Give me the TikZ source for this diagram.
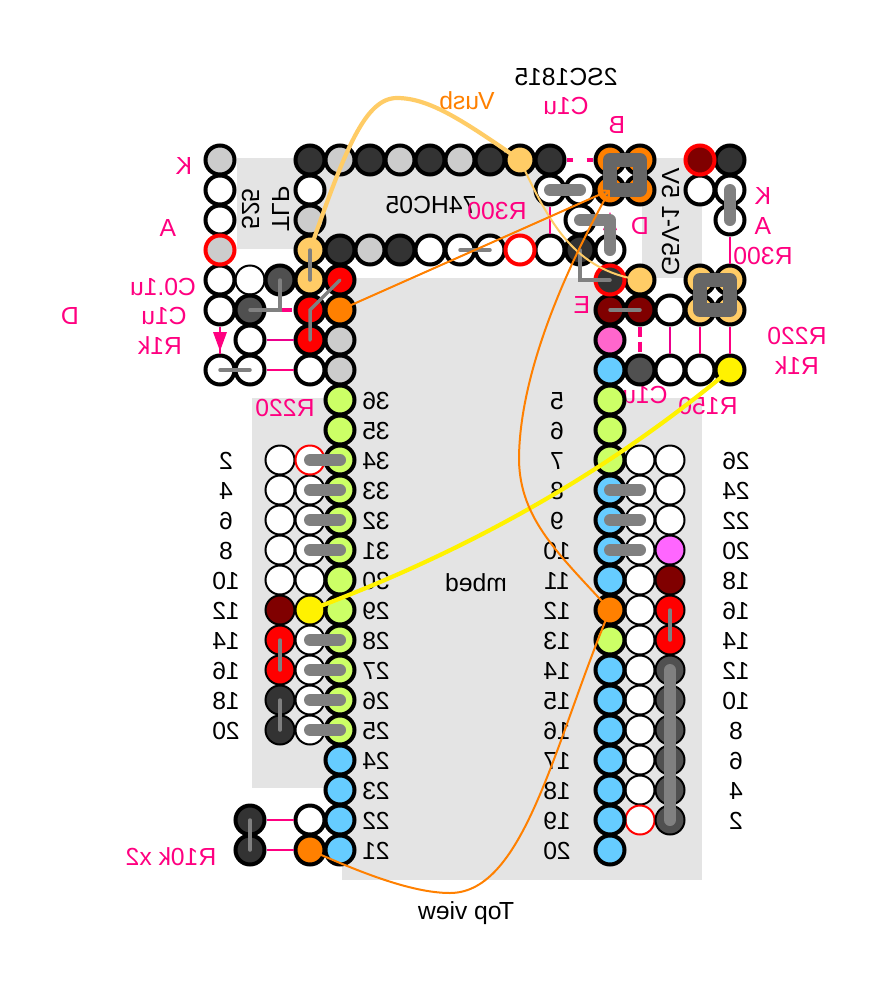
\documentclass[tikz,border=0pt]{standalone}
\usepackage{fontspec}
\setmainfont{Liberation Sans}
\usetikzlibrary{arrows.meta}
\definecolor{boardgray}{HTML}{E4E4E4}
\definecolor{pinlight}{HTML}{CCCCCC}
\definecolor{pindark}{HTML}{333333}
\definecolor{pinmid}{HTML}{505050}
\definecolor{pinsand}{HTML}{FFCC66}
\definecolor{pinorange}{HTML}{FF8000}
\definecolor{pinmaroon}{HTML}{800000}
\definecolor{pinlime}{HTML}{CCFF66}
\definecolor{pinblue}{HTML}{66CCFF}
\definecolor{pinrose}{HTML}{FF66CC}
\definecolor{pinviolet}{HTML}{FF66FF}
\definecolor{partpink}{HTML}{FF0080}
\definecolor{wiregray}{HTML}{808080}
\definecolor{loopgray}{HTML}{666666}
\tikzset{
  pin/.style={circle,draw=black,line width=4pt,minimum size=29pt,inner sep=0pt,fill=white},
  thinpin/.style={pin,line width=2pt},
  lbl/.style={xscale=-1,inner sep=0pt,text height=17.7pt,text depth=0pt,
    font=\fontsize{24.7pt}{28pt}\selectfont},
  pinklbl/.style={lbl,text=partpink},
  uplbl/.style={inner sep=0pt,text height=17.7pt,text depth=0pt,
    font=\fontsize{24.7pt}{28pt}\selectfont,xscale=-1,rotate=90},
  partline/.style={draw=partpink,line width=2.2pt},
  capline/.style={draw=partpink,line width=4pt},
  strap/.style={draw=wiregray,line width=12pt,line cap=round,line join=round},
  jumper/.style={draw=wiregray,line width=3.5pt,line cap=round,line join=miter},
  hookup/.style={draw=pinorange,line width=2pt},
}
\begin{document}
\begin{tikzpicture}[%
      x=1pt,y=-1pt,
      ]
      \useasboundingbox (0,0) rectangle (887,983);
      \fill [boardgray] (237,158) rectangle (550,249);
      \fill [boardgray] (642,158) rectangle (702,278);
      \fill [boardgray] (342,278) rectangle (610,880);
      \fill [boardgray] (610,398) rectangle (702,880);
      \fill [boardgray] (252,398) rectangle (342,788);

      \node [lbl] (chipa) at (566,76.5) {2SC1815};
      \node [lbl] (chipb) at (431,205) {74HC05};
      \node [lbl] (board) at (476,583) {mbed};
      \node [lbl] (view) at (466,911) {Top view};
      \node [uplbl] (opto) at (281,209) {TLP};
      \node [uplbl] (optonum) at (251,209) {525};
      \node [uplbl] (relay) at (671,222) {G5V-1 5V};
      \node [lbl,text=pinorange] (vusb) at (467,101) {Vusb};
      \node [pinklbl] (ctop) at (566,106) {C1u};
      \node [pinklbl] (base) at (617,125) {B};
      \node [pinklbl] (emit) at (582,305) {E};
      \node [pinklbl] (ka) at (184,166) {K};
      \node [pinklbl] (an) at (168,228) {A};
      \node [pinklbl] (kb) at (763,196) {K};
      \node [pinklbl] (ab) at (763,226) {A};
      \node [pinklbl] (da) at (70,316) {D};
      \node [pinklbl] (db) at (640,226) {D};
      \node [pinklbl] (cleft) at (163,287) {C0.1u};
      \node [pinklbl] (cleftb) at (164,316) {C1u};
      \node [pinklbl] (rleft) at (160,346) {R1k};
      \node [pinklbl] (rmid) at (497,211) {R300};
      \node [pinklbl] (rright) at (763,256) {R300};
      \node [pinklbl] (rled) at (797,336) {R220};
      \node [pinklbl] (rledb) at (797,366) {R1k};
      \node [pinklbl] (clow) at (645,395) {C1u};
      \node [pinklbl] (rlow) at (708,406) {R150};
      \node [pinklbl] (rhead) at (285,408) {R220};
      \node [pinklbl] (rpull) at (171,857) {R10k x2};

      \foreach \n [count=\i] in {36,35,...,21}
        \node [lbl] (num\n) at (376,371+30*\i) {\n};
      \foreach \n [count=\i] in {5,...,20}
        \node [lbl] (mb\n) at (557,371+30*\i) {\n};
      \foreach \n [count=\i] in {2,4,...,20}
        \node [lbl] (hl\n) at (226,431+30*\i) {\n};
      \foreach \n [count=\i] in {26,24,...,2}
        \node [lbl] (hr\n) at (736,431+30*\i) {\n};

      \foreach \x/\y in {280/460,280/490,280/520,280/550,280/580,310/490,310/520,310/550,310/580,
          310/640,310/670,310/700,310/730,640/460,640/490,640/520,640/550,640/580,640/610,640/640,
          640/670,640/700,640/730,640/760,640/790,670/460,670/490,670/520,250/280}
        \node [thinpin] (p\x-\y) at (\x,\y) {};
      \node [thinpin,draw=red] (p310-460) at (310,460) {};
      \node [thinpin,draw=red] (p640-820) at (640,820) {};
      \node [thinpin,fill=pinmaroon] (p280-610) at (280,610) {};
      \node [thinpin,fill=pinmaroon] (p670-580) at (670,580) {};
      \node [thinpin,fill=pinviolet] (p670-550) at (670,550) {};
      \node [thinpin,fill=yellow] (p310-610) at (310,610) {};
      \foreach \x/\y in {280/640,280/670,670/610,670/640}
        \node [thinpin,fill=red] (p\x-\y) at (\x,\y) {};
      \foreach \x/\y in {280/700,280/730}
        \node [thinpin,fill=pindark] (p\x-\y) at (\x,\y) {};
      \foreach \y in {670,700,...,820}
        \node [thinpin,fill=pinmid] (p670-\y) at (670,\y) {};

      \foreach \x/\y in {220/190,220/220,220/280,220/310,220/370,250/340,250/370,310/190,310/370,
          430/250,460/250,490/250,550/190,550/250,580/190,580/220,610/250,670/310,670/370,700/190,
          700/370,730/190,730/220,310/820}
        \node [pin] (p\x-\y) at (\x,\y) {};
      \foreach \x/\y in {220/160,310/220,340/160,400/160,460/160,370/250,340/340,340/370}
        \node [pin,fill=pinlight] (p\x-\y) at (\x,\y) {};
      \foreach \x/\y in {310/160,370/160,430/160,490/160,550/160,730/160,340/250,400/250,580/250,
          250/820,250/850}
        \node [pin,fill=pindark] (p\x-\y) at (\x,\y) {};
      \foreach \x/\y in {280/280,250/310,640/370}
        \node [pin,fill=pinmid] (p\x-\y) at (\x,\y) {};
      \foreach \x/\y in {520/160,310/250,310/280,640/280,700/280,730/280,700/310,730/310}
        \node [pin,fill=pinsand] (p\x-\y) at (\x,\y) {};
      \foreach \x/\y in {610/160,640/160,610/190,640/190,340/310,610/610,310/850}
        \node [pin,fill=pinorange] (p\x-\y) at (\x,\y) {};
      \foreach \x/\y in {340/280,310/310,310/340}
        \node [pin,fill=red] (p\x-\y) at (\x,\y) {};
      \foreach \x/\y in {610/310,640/310}
        \node [pin,fill=pinmaroon] (p\x-\y) at (\x,\y) {};
      \node [pin,fill=pinrose] (p610-340) at (610,340) {};
      \node [pin,fill=yellow] (p730-370) at (730,370) {};
      \node [pin,draw=red,fill=pinlight] (p220-250) at (220,250) {};
      \node [pin,draw=red] (p520-250) at (520,250) {};
      \node [pin,draw=red,fill=pinmaroon] (p700-160) at (700,160) {};
      \node [pin,draw=red,fill=pindark] (p610-280) at (610,280) {};
      \foreach \y in {400,430,...,730}
        \node [pin,fill=pinlime] (p340-\y) at (340,\y) {};
      \foreach \y in {760,790,820,850}
        \node [pin,fill=pinblue] (p340-\y) at (340,\y) {};
      \foreach \y in {370,490,520,550,580,670,700,730,760,790,820,850}
        \node [pin,fill=pinblue] (p610-\y) at (610,\y) {};
      \foreach \y in {400,430,460,640}
        \node [pin,fill=pinlime] (p610-\y) at (610,\y) {};

      \draw [partline] (p550-190) -- (p550-250);
      \draw [partline] (p730-220) -- (p730-280);
      \draw [partline,draw=magenta] (p670-310) -- (p670-370);
      \draw [partline] (p700-310) -- (p700-370);
      \draw [partline] (p730-310) -- (p730-370);
      \draw [partline,draw=magenta] (p250-340) -- (p310-340);
      \draw [partline] (p250-370) -- (p310-370);
      \draw [partline] (p250-820) -- (p310-820);
      \draw [partline] (p250-850) -- (p310-850);
      \draw [capline,dash pattern=on 6.5pt off 13.5pt] (p550-160) -- (p610-160);
      \draw [capline,dash pattern=on 10pt off 5pt] (p640-310) -- (p640-370);
      \draw [capline,dash pattern=on 10pt off 5pt] (p250-310) -- (p310-310);
      \draw [partline] (p220-310) -- (p220-370);
      \fill [partpink] (213,332) -- (227,332) -- (220,351) -- cycle;
      \fill [partpink] (603,230) -- (617,230) -- (610,212) -- cycle;

      \coordinate (vusbtop) at (397,98);
      \coordinate (tailbottom) at (450,893);
      \coordinate (tailbend) at (519,460);
      \draw [draw=pinsand,line width=4.2pt] (p310-250.center) .. controls (345,150) and (365,98) .. (vusbtop)
        .. controls (430,98) and (465,122) .. (p520-160.center);

      \foreach \y in {460,490,520,550,640,670,700,730}
        \draw [strap] (p310-\y.center) -- (p340-\y.center);
      \foreach \y in {490,520,550}
        \draw [strap] (p610-\y.center) -- (p640-\y.center);
      \draw [strap] (p670-670.center) -- (p670-820.center);
      \draw [strap] (p730-190.center) -- (p730-220.center);
      \draw [strap] (p550-190.center) -- (p580-190.center);
      \draw [strap] (p580-220.center) -- (p580-220.center -| p610-250.center) -- (p610-250.center);
      \draw [jumper] (p670-610.center) -- (p670-640.center);
      \draw [jumper] (p280-640.center) -- (p280-670.center);
      \draw [jumper] (p280-700.center) -- (p280-730.center);
      \draw [jumper] (p250-820.center) -- (p250-850.center);
      \draw [jumper] (p460-250.center) -- (p490-250.center);
      \draw [jumper] (p610-310.center) -- (p640-310.center);
      \draw [jumper] (p580-250.center) -- (p580-250.center |- p610-280.center) -- (p610-280.center);
      \draw [jumper] (p220-370.center) -- (p250-370.center);
      \draw [jumper] (p310-250.center) -- (p310-280.center);
      \draw [jumper] (p310-340.center) -- (p310-310.center) -- (p340-280.center);
      \draw [jumper] (p280-280.center) -- (p280-280.center |- p250-310.center) -- (p250-310.center);
      \draw [draw=loopgray,line width=14pt,line join=round] (p610-160.center) -- (p640-160.center)
        -- (p640-190.center) -- (p610-190.center) -- cycle;
      \draw [draw=loopgray,line width=14pt,line join=round] (p700-280.center) -- (p730-280.center)
        -- (p730-310.center) -- (p700-310.center) -- cycle;

      \draw [draw=pinsand,line width=2pt] (p520-160.center) .. controls (550,225) and (575,270) .. (p640-280.center);
      \draw [draw=yellow,line width=4.2pt] (p310-610.center) .. controls (430,565) and (580,495) .. (p730-370.center);
      \draw [hookup,-{Triangle[open,length=9pt,width=9pt]}] (p340-310.center) -- (p610-190.center);
      \draw [hookup] (p310-850.center) .. controls (355,870) and (410,893) .. (tailbottom)
        .. controls (525,893) and (555,740) .. (p610-610.center);
      \draw [hookup,-{Triangle[open,length=9pt,width=9pt]}] (p610-610.center) .. controls (560,555) and (520,520) .. (tailbend)
        .. controls (519,380) and (560,280) .. (p610-190.center);
\end{tikzpicture}
\end{document}
